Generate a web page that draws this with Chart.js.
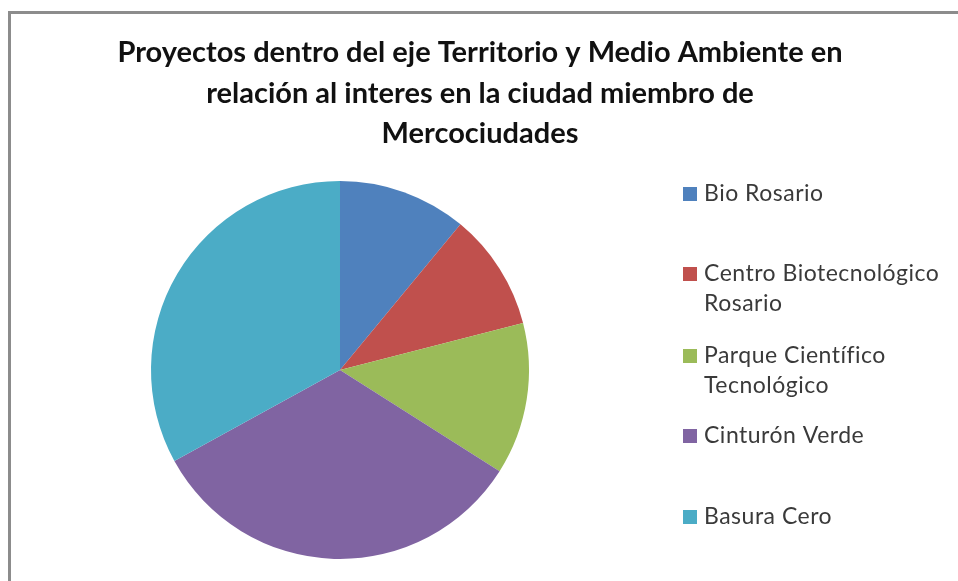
<!DOCTYPE html>
<html>
<head>
<meta charset="utf-8">
<script src="https://cdn.jsdelivr.net/npm/chart.js@4/dist/chart.umd.min.js"></script>
<style>
  html, body { margin: 0; padding: 0; background: #fff; }
  #wrap { width: 958px; height: 581px; position: relative; }
</style>
</head>
<body>
<div id="wrap"><canvas id="chart" width="958" height="581"></canvas></div>
<script>
// Chart data
const titleLines = [
  "Proyectos dentro del eje Territorio y Medio Ambiente en",
  "relación al interes en la ciudad miembro de",
  "Mercociudades"
];
const categories = [
  ["Bio Rosario"],
  ["Centro Biotecnológico", "Rosario"],
  ["Parque Científico", "Tecnológico"],
  ["Cinturón Verde"],
  ["Basura Cero"]
];
const values = [11, 10, 13, 33, 33];
const colors = ["#4F81BD", "#C0504D", "#9BBB59", "#8064A2", "#4BACC6"];

// Frame, title and legend drawn by hand to match the spreadsheet look
const decor = {
  id: "decor",
  beforeDraw(chart) {
    const ctx = chart.ctx;
    ctx.save();
    ctx.fillStyle = "#ffffff";
    ctx.fillRect(0, 0, chart.width, chart.height);
    ctx.strokeStyle = "#8c8c8c";
    ctx.lineWidth = 3;
    ctx.beginPath();
    ctx.moveTo(9.5, chart.height);
    ctx.lineTo(9.5, 12.5);
    ctx.lineTo(chart.width, 12.5);
    ctx.stroke();
    ctx.restore();
  },
  afterDraw(chart) {
    const ctx = chart.ctx;
    ctx.save();
    // title
    ctx.fillStyle = "#111";
    ctx.font = "bold 29px Lato";
    ctx.textAlign = "center";
    ctx.textBaseline = "middle";
    titleLines.forEach((t, i) => {
      ctx.fillText(t, 480, 53 + i * 40.5);
    });
    // legend
    const labels = chart.data.labels;
    const bg = chart.data.datasets[0].backgroundColor;
    const rowY = [194, 274, 356, 436, 517];
    ctx.textAlign = "left";
    ctx.font = "23px Lato";
    ctx.letterSpacing = "0.5px";
    labels.forEach((lbl, i) => {
      const y = rowY[i];
      ctx.fillStyle = bg[i];
      ctx.fillRect(683, y - 7, 14, 14);
      ctx.fillStyle = "#3a3a3a";
      lbl.forEach((line, j) => {
        ctx.fillText(line, 704, y + j * 30);
      });
    });
    ctx.restore();
  }
};

const chart = new Chart("chart", {
  type: "pie",
  data: {
    labels: categories,
    datasets: [{
      data: values,
      backgroundColor: colors,
      borderWidth: 0
    }]
  },
  options: {
    responsive: false,
    animation: false,
    layout: { padding: { left: 151, right: 429, top: 181, bottom: 22 } },
    plugins: {
      legend: { display: false },
      title: { display: false },
      tooltip: { enabled: false }
    }
  },
  plugins: [decor]
});
</script>
</body>
</html>
